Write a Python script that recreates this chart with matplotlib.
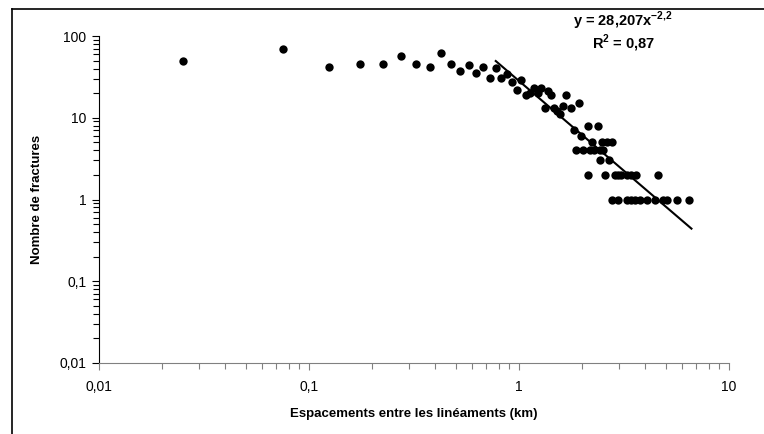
import matplotlib
matplotlib.use("Agg")
import matplotlib.pyplot as plt
from matplotlib.lines import Line2D
import numpy as np

plt.rcParams['font.family'] = ['Liberation Sans', 'DejaVu Sans']
plt.rcParams['mathtext.fontset'] = 'custom'
plt.rcParams['mathtext.bf'] = 'Liberation Sans:bold'
plt.rcParams['mathtext.rm'] = 'Liberation Sans'

# spacing (km) and number of fractures
espacement = [0.025, 0.075, 0.125, 0.175, 0.225, 0.275, 0.325, 0.375, 0.425, 0.475,
              0.525, 0.575, 0.625, 0.675, 0.725, 0.775, 0.825, 0.875, 0.925, 0.975,
              1.025, 1.075, 1.125, 1.175, 1.225, 1.275, 1.325, 1.375, 1.425, 1.475,
              1.525, 1.575, 1.625, 1.675, 1.775, 1.825, 1.875, 1.925, 1.975, 2.025,
              2.125, 2.125, 2.175, 2.225, 2.275, 2.375, 2.425, 2.425, 2.475, 2.525,
              2.575, 2.625, 2.675, 2.775, 2.775, 2.875, 2.975, 2.975, 3.075, 3.275,
              3.275, 3.425, 3.425, 3.575, 3.625, 3.775, 4.075, 4.425, 4.575, 4.825,
              5.075, 5.625, 6.475]
nombre = [50, 69, 42, 45, 45, 57, 45, 42, 62, 45,
          37, 44, 35, 42, 31, 41, 31, 34, 27, 22,
          29, 19, 20, 23, 20, 23, 13, 21, 19, 13,
          12, 11, 14, 19, 13, 7, 4, 15, 6, 4,
          8, 2, 4, 5, 4, 8, 4, 3, 5, 4,
          2, 5, 3, 5, 1, 2, 2, 1, 2, 2,
          1, 2, 1, 1, 2, 1, 1, 1, 2, 1,
          1, 1, 1]

# power-law fit y = a * x^b
fit_a = 28.207
fit_b = -2.2
fit_range = [0.775, 6.625]

xticks = [0.01, 0.1, 1, 10]
xtick_labels = ["0,01", "0,1", "1", "10"]
yticks = [0.01, 0.1, 1, 10, 100]
ytick_labels = ["0,01", "0,1", "1", "10", "100"]

fig = plt.figure(figsize=(7.64, 4.34), dpi=100)
ax = fig.add_axes([99 / 764, 1 - 363 / 434, 630 / 764, 327 / 434])

ax.scatter(espacement, nombre, s=36, color='black', zorder=3, linewidths=0)

xf = np.geomspace(fit_range[0], fit_range[1], 50)
ax.plot(xf, fit_a * xf ** fit_b, color='black', lw=1.5, zorder=2)

ax.set_xscale('log')
ax.set_yscale('log')
ax.set_xlim(0.01, 10)
ax.set_ylim(0.01, 100)
ax.set_xticks(xticks)
ax.set_xticklabels(xtick_labels)
ax.set_yticks(yticks)
ax.set_yticklabels(ytick_labels)
ax.tick_params(which='major', direction='out', length=5, width=0.8, labelsize=10)
ax.tick_params(which='minor', direction='out', length=4, width=0.8)
ax.tick_params(axis='x', which='both', colors='#808080', labelcolor='black', pad=7)
ax.tick_params(axis='y', which='both', pad=4)

for s in ['top', 'right']:
    ax.spines[s].set_visible(False)
ax.spines['bottom'].set_color('#808080')
ax.spines['left'].set_color('black')

ax.set_xlabel("Espacements entre les linéaments (km)", fontsize=9.5,
              fontweight='bold', labelpad=10)
ax.set_ylabel("Nombre de fractures", fontsize=9.5, fontweight='bold', labelpad=12)

fig.text(623 / 764, 1 - 21 / 434, r"y = 28,207x$^{\mathbf{-2{,}2}}$", ha='center', va='center',
         fontsize=10.5, fontweight='bold')
fig.text(624 / 764, 1 - 43 / 434, r"R$^{\mathbf{2}}$ = 0,87", ha='center', va='center',
         fontsize=10.5, fontweight='bold')

# outer frame (left and top edges visible)
fig.add_artist(Line2D([12 / 764, 12 / 764], [0, 1 - 9 / 434], color='black', lw=1.2))
fig.add_artist(Line2D([12 / 764, 1], [1 - 9 / 434, 1 - 9 / 434], color='black', lw=1.2))

fig.savefig("out.png", dpi=100)
